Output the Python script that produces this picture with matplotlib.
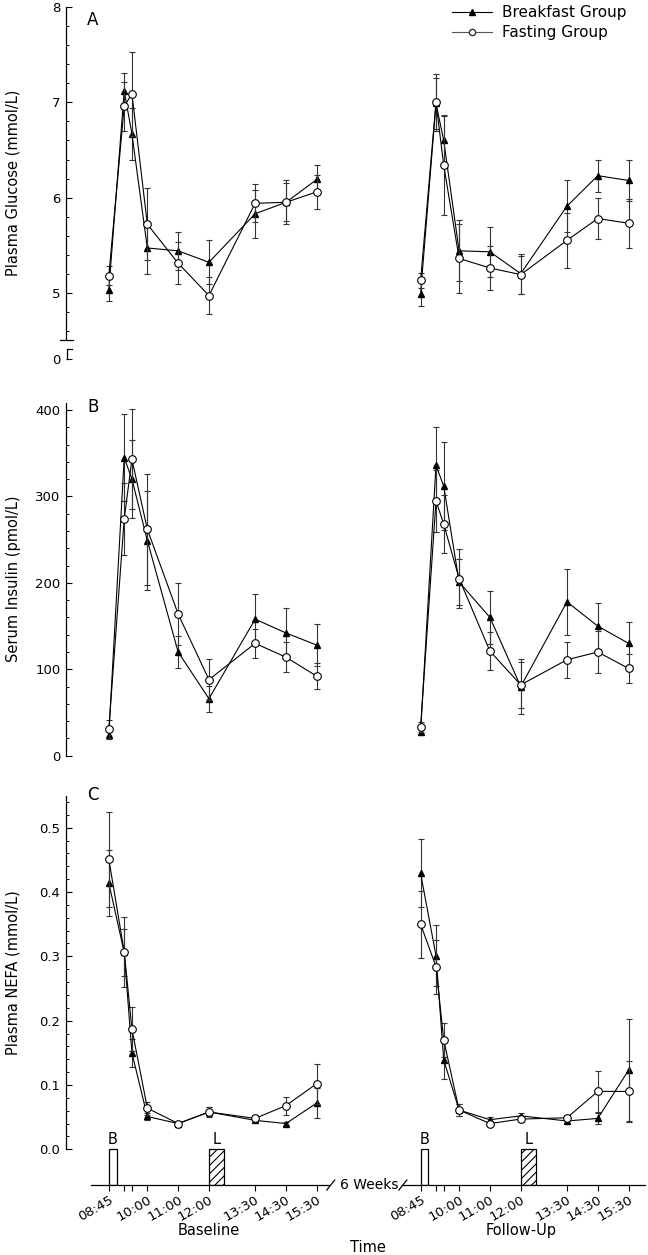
import numpy as np
import matplotlib.pyplot as plt
from matplotlib.lines import Line2D

W, H = 648, 1255

times = ["08:45", "09:15", "09:30", "10:00", "11:00", "12:00", "13:30", "14:30", "15:30"]
tick_labels = ["08:45", "", "", "10:00", "11:00", "12:00", "13:30", "14:30", "15:30"]

# plasma glucose (mmol/L), mean and SE
glu_bf_base = [5.03, 7.12, 6.67, 5.47, 5.44, 5.32, 5.83, 5.95, 6.19]
glu_bf_base_se = [0.12, 0.19, 0.27, 0.27, 0.20, 0.23, 0.25, 0.20, 0.15]
glu_fa_base = [5.18, 6.96, 7.09, 5.72, 5.31, 4.97, 5.94, 5.95, 6.06]
glu_fa_base_se = [0.10, 0.26, 0.44, 0.38, 0.22, 0.19, 0.20, 0.23, 0.18]
glu_bf_fu = [4.99, 6.99, 6.60, 5.44, 5.43, 5.20, 5.91, 6.23, 6.18]
glu_bf_fu_se = [0.13, 0.27, 0.27, 0.32, 0.26, 0.21, 0.27, 0.17, 0.22]
glu_fa_fu = [5.13, 7.00, 6.34, 5.36, 5.26, 5.19, 5.55, 5.78, 5.73]
glu_fa_fu_se = [0.08, 0.30, 0.52, 0.36, 0.23, 0.20, 0.29, 0.22, 0.26]

# serum insulin (pmol/L)
ins_bf_base = [24, 345, 320, 249, 120, 66, 158, 142, 128]
ins_bf_base_se = [5, 50, 45, 57, 18, 15, 29, 29, 24]
ins_fa_base = [31, 274, 343, 262, 164, 88, 130, 114, 92]
ins_fa_base_se = [10, 42, 58, 64, 36, 24, 17, 17, 15]
ins_bf_fu = [28, 336, 312, 201, 160, 80, 178, 150, 130]
ins_bf_fu_se = [4, 44, 51, 27, 31, 32, 38, 27, 25]
ins_fa_fu = [33, 295, 268, 205, 121, 82, 111, 120, 101]
ins_fa_fu_se = [6, 36, 34, 34, 22, 27, 21, 24, 17]

# plasma NEFA (mmol/L)
nefa_bf_base = [0.414, 0.306, 0.150, 0.051, 0.040, 0.058, 0.045, 0.040, 0.072]
nefa_bf_base_se = [0.052, 0.036, 0.022, 0.006, 0.003, 0.007, 0.003, 0.003, 0.024]
nefa_fa_base = [0.451, 0.307, 0.187, 0.064, 0.040, 0.058, 0.048, 0.068, 0.102]
nefa_fa_base_se = [0.074, 0.054, 0.034, 0.010, 0.002, 0.008, 0.005, 0.014, 0.031]
nefa_bf_fu = [0.429, 0.301, 0.139, 0.061, 0.046, 0.052, 0.044, 0.048, 0.123]
nefa_bf_fu_se = [0.053, 0.047, 0.030, 0.010, 0.004, 0.005, 0.003, 0.008, 0.079]
nefa_fa_fu = [0.350, 0.284, 0.170, 0.061, 0.040, 0.047, 0.049, 0.090, 0.090]
nefa_fa_fu_se = [0.052, 0.042, 0.026, 0.010, 0.003, 0.004, 0.004, 0.032, 0.047]

# meals
meal_labels = ["B", "L"]
meal_start = ["08:45", "12:00"]
meal_end = ["09:00", "12:30"]
meal_hatch = ["", "////"]


def hours(t):
    h, m = t.split(":")
    return int(h) + int(m) / 60.0


x = np.array([hours(t) for t in times])


def rect(x0, y0, x1, y1):
    # pixel box (top-left origin) -> figure fraction
    return [x0 / W, 1 - y1 / H, (x1 - x0) / W, (y1 - y0) / H]


plt.rcParams['font.family'] = 'DejaVu Sans'
plt.rcParams['hatch.linewidth'] = 0.8

fig = plt.figure(figsize=(W / 100, H / 100), dpi=100)

GLU_ZERO = 4.3
rows = [
    dict(top=7.3, bottom=359.3, ylim=(GLU_ZERO, 8.0), label="Plasma Glucose (mmol/L)", letter="A",
         data=[(glu_bf_base, glu_bf_base_se, glu_fa_base, glu_fa_base_se),
               (glu_bf_fu, glu_bf_fu_se, glu_fa_fu, glu_fa_fu_se)]),
    dict(top=402.7, bottom=755.7, ylim=(0, 408.5), label="Serum Insulin (pmol/L)", letter="B",
         data=[(ins_bf_base, ins_bf_base_se, ins_fa_base, ins_fa_base_se),
               (ins_bf_fu, ins_bf_fu_se, ins_fa_fu, ins_fa_fu_se)]),
    dict(top=795.7, bottom=1185.0, ylim=(-0.0555, 0.5497), label="Plasma NEFA (mmol/L)", letter="C",
         data=[(nefa_bf_base, nefa_bf_base_se, nefa_fa_base, nefa_fa_base_se),
               (nefa_bf_fu, nefa_bf_fu_se, nefa_fa_fu, nefa_fa_fu_se)]),
]
letter_y = [25, 412, 800]

cols = [dict(x0=66, x1=330, xlim=(7.36, 15.93), spine=(8.166, 15.89), name="Baseline"),
        dict(x0=330, x1=648, xlim=(5.81, 16.13), spine=(8.175, 16.03), name="Follow-Up")]

err_kw = dict(lw=0.8, elinewidth=0.8, ecolor='#333333', capsize=2, capthick=0.8, clip_on=False)

axes = []
for r, row in enumerate(rows):
    left_ax = None
    for c, col in enumerate(cols):
        ax = fig.add_axes(rect(col['x0'], row['top'], col['x1'], row['bottom']),
                          sharey=left_ax)
        ax.patch.set_visible(False)
        ax.set_xlim(*col['xlim'])
        ax.set_ylim(*row['ylim'])
        for s in ['top', 'right']:
            ax.spines[s].set_visible(False)
        ax.spines['left'].set_visible(c == 0)
        ax.spines['bottom'].set_visible(r == 2)
        for s in ax.spines.values():
            s.set_linewidth(0.9)
        ax.tick_params(axis='y', which='major', direction='in', length=4, width=0.8,
                       labelsize=9.5, pad=4)
        ax.tick_params(axis='y', which='minor', direction='in', length=2, width=0.7)
        if c == 1:
            ax.tick_params(axis='y', which='both', left=False, labelleft=False)

        bf, bf_se, fa, fa_se = row['data'][c]
        ax.errorbar(x, bf, yerr=bf_se, fmt='-', color='black', marker='^', ms=4.8,
                    mfc='black', mec='black', zorder=3, **err_kw)
        ax.errorbar(x, fa, yerr=fa_se, fmt='-', color='black', marker='o', ms=5.5,
                    mfc='white', mec='black', mew=0.8, zorder=4, **err_kw)

        if r < 2:
            ax.tick_params(axis='x', which='both', bottom=False, labelbottom=False)
        else:
            ax.spines['bottom'].set_bounds(*col['spine'])
            ax.set_xticks(x, tick_labels, rotation=30, ha='right', rotation_mode='anchor')
            ax.tick_params(axis='x', direction='out', length=4, width=0.8, labelsize=9.5, pad=2)
            ymin = row['ylim'][0]
            starts = np.array([hours(t) for t in meal_start])
            ends = np.array([hours(t) for t in meal_end])
            for m in range(len(meal_labels)):
                ax.bar(starts[m], -ymin, bottom=ymin, width=ends[m] - starts[m], align='edge',
                       facecolor='white', edgecolor='black', linewidth=0.9,
                       hatch=meal_hatch[m], zorder=2)
                ax.text((starts[m] + ends[m]) / 2, 0.004, meal_labels[m], ha='center',
                        va='bottom', fontsize=10.5)
            ax.text(12.0, -0.118, col['name'], transform=ax.get_xaxis_transform(),
                    ha='center', va='center', fontsize=10.5)
            # axis break marks
            tr = ax.get_xaxis_transform()
            dx, dy = 4 / 30.8, 5 / (row['bottom'] - row['top'])
            xb = col['spine'][1] + 2 / 30.8 if c == 0 else col['spine'][0]
            ax.plot([xb - dx, xb + dx], [-dy, dy], color='black', lw=0.9,
                    transform=tr, clip_on=False)
            if c == 1:
                ax.text(col['xlim'][0] + (369 - col['x0']) / 30.8, -4 / (row['bottom'] - row['top']),
                        "6 Weeks", transform=tr, ha='center', va='baseline', fontsize=10)

        if c == 0:
            ax.set_ylabel(row['label'], fontsize=10.5)
            left_ax = ax
        axes.append(ax)
    fig.text(87 / W, 1 - letter_y[r] / H, row['letter'], fontsize=12, va='baseline')

axA, axB, axC = axes[0], axes[2], axes[4]

# glucose axis with break
axA.spines['left'].set_bounds(4.5, 8.0)
axA.set_yticks([GLU_ZERO, 5, 6, 7, 8], ['0', '5', '6', '7', '8'])
axA.set_yticks([v for v in np.arange(4.6, 7.9, 0.2) if abs(v - round(v)) > 0.01], minor=True)
ytr = axA.get_yaxis_transform()
axA.plot([-6 / 264, 6.5 / 264], [4.5, 4.5], color='black', lw=0.9, transform=ytr, clip_on=False)
axA.plot([6 / 264, 1 / 264, 1 / 264], [4.41, 4.41, GLU_ZERO], color='black', lw=0.9,
         transform=ytr, clip_on=False)
axA.yaxis.set_label_coords(-0.172, 0.5)

axB.set_yticks([0, 100, 200, 300, 400])
axB.set_yticks([v for v in range(20, 400, 20) if v % 100], minor=True)
axB.yaxis.set_label_coords(-0.172, 0.5)

axC.spines['left'].set_bounds(0, 0.5497)
axC.set_yticks([0, 0.1, 0.2, 0.3, 0.4, 0.5], ['0.0', '0.1', '0.2', '0.3', '0.4', '0.5'])
axC.set_yticks([v for v in np.arange(0.02, 0.55, 0.02) if abs(v * 10 - round(v * 10)) > 0.01],
               minor=True)
axC.yaxis.set_label_coords(-0.172, (1185 - 972.5) / (1185 - 795.7))

fig.text(368 / W, 1 - 1248 / H, "Time", ha='center', va='center', fontsize=10.5)

handles = [Line2D([], [], color='black', lw=0.8, marker='^', ms=4.5, mfc='black', mec='black'),
           Line2D([], [], color='#555555', lw=0.8, marker='o', ms=4.5, mfc='white', mec='#333333')]
fig.legend(handles, ["Breakfast Group", "Fasting Group"], loc='upper left',
           bbox_to_anchor=(452 / W, 1 - 5 / H), frameon=False, fontsize=11,
           handlelength=2.6, handletextpad=0.7, labelspacing=0.35,
           borderpad=0, borderaxespad=0)

fig.savefig("out.png", dpi=100)
